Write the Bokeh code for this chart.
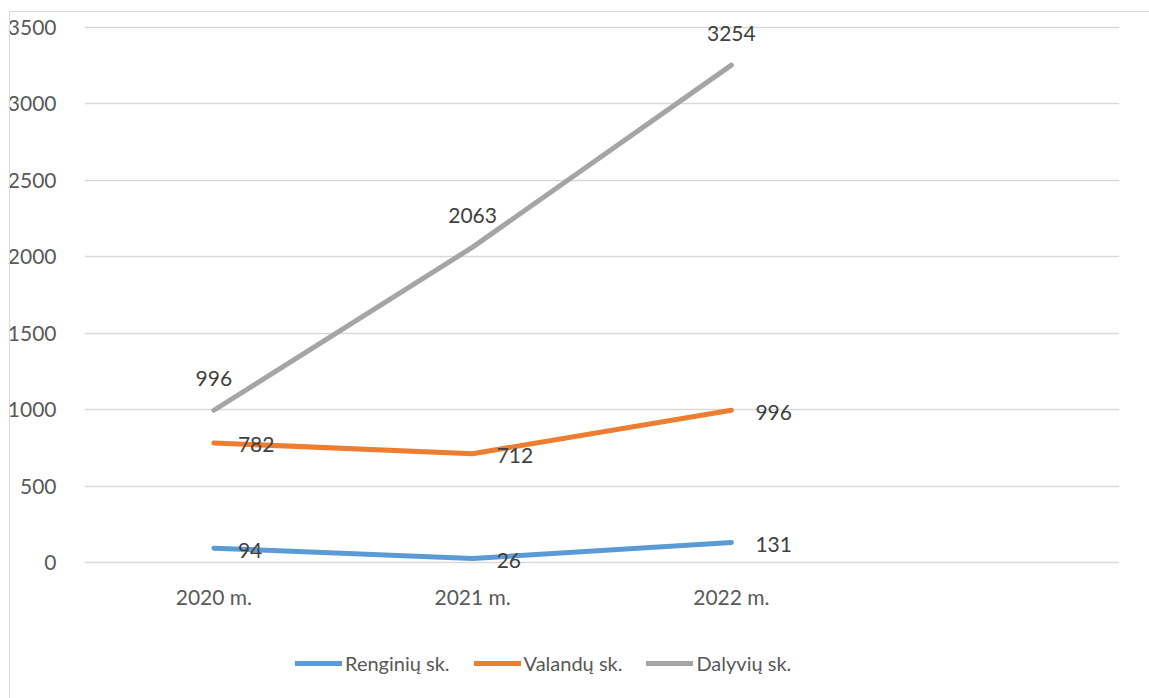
from bokeh.plotting import figure
from bokeh.models import (FactorRange, Range1d, Legend, LegendItem, ColumnDataSource,
                          SingleIntervalTicker, LabelSet, InlineStyleSheet)
from bokeh.layouts import column
from bokeh.core.properties import value
from bokeh.embed import file_html
from bokeh.resources import INLINE

categories = ["2020 m.", "2021 m.", "2022 m."]
extra_slot = [" "]
renginiu = [94, 26, 131]
valandu = [782, 712, 996]
dalyviu = [996, 2063, 3254]
series_names = ["Renginių sk.", "Valandų sk.", "Dalyvių sk."]
colors = ["#5B9BD5", "#ED7D31", "#A5A5A5"]

FONT = "Lato"
FS = "21px"

scale = 535 / 3500.0
y0 = -11 / scale
y1 = 3500 + 10 / scale

p = figure(x_range=FactorRange(*(categories + extra_slot)), y_range=Range1d(y0, y1),
           frame_width=1035, frame_height=556,
           min_border_left=84, min_border_right=30, min_border_top=17, min_border_bottom=40,
           output_backend="svg", toolbar_location=None)
p.outline_line_color = None
p.background_fill_color = "white"
p.border_fill_color = "white"

p.xgrid.grid_line_color = None
p.ygrid.grid_line_color = "#d9d9d9"
p.ygrid.grid_line_width = 1.3
p.yaxis.ticker = SingleIntervalTicker(interval=500)

for ax in (p.xaxis, p.yaxis):
    ax.axis_line_color = None
    ax.major_tick_line_color = None
    ax.minor_tick_line_color = None
    ax.major_label_text_font = FONT
    ax.major_label_text_font_size = FS
    ax.major_label_text_color = "#595959"
p.yaxis.major_label_standoff = 22
p.xaxis.major_label_standoff = 4
p.yaxis.formatter.use_scientific = False

all_series = [renginiu, valandu, dalyviu]
for name, vals, col in zip(series_names, all_series, colors):
    src = ColumnDataSource(dict(x=categories, y=vals, t=[str(v) for v in vals]))
    p.line("x", "y", source=src, line_color=col, line_width=5, line_cap="round", line_join="round")
    if name == "Dalyvių sk.":
        lab = LabelSet(x="x", y="y", text="t", source=src, text_align="center", text_baseline="middle",
                       y_offset=32, text_font=value(FONT), text_font_size=FS, text_color="#404040")
    else:
        lab = LabelSet(x="x", y="y", text="t", source=src, text_align="left", text_baseline="middle",
                       x_offset=24, y_offset=-2, text_font=value(FONT), text_font_size=FS, text_color="#404040")
    p.add_layout(lab)

# legend strip below the chart (legend-only renderers carry no visible data)
lf = figure(x_range=Range1d(0, 1), y_range=Range1d(0, 1), width=1149, height=85,
            min_border=0, x_axis_location=None, y_axis_location=None,
            output_backend="svg", toolbar_location=None)
lf.grid.visible = False
lf.outline_line_color = None
lf.background_fill_color = "white"
lf.border_fill_color = "white"
nan = float("nan")
dummy = []
for col in colors:
    dummy.append(lf.line(x=[nan], y=[nan], line_color=col, line_width=5, line_cap="round"))
legend = Legend(items=[LegendItem(label=n, renderers=[r]) for n, r in zip(series_names, dummy)],
                orientation="horizontal", location=(211, 23), padding=0, margin=0,
                spacing=24, glyph_width=47, glyph_height=20, label_standoff=3,
                label_text_font=FONT, label_text_font_size="20px", label_text_color="#595959",
                border_line_color=None, background_fill_alpha=0)
lf.add_layout(legend, "center")

layout = column(p, lf, spacing=0)
layout.stylesheets = [InlineStyleSheet(css=":host::after { content: ''; position: absolute; left: 9px; top: 11px; "
                                           "right: 0; bottom: 0; border-left: 1.5px solid #d9d9d9; "
                                           "border-top: 1.5px solid #d9d9d9; pointer-events: none; }")]

open("out.html", "w").write(file_html(layout, INLINE))
